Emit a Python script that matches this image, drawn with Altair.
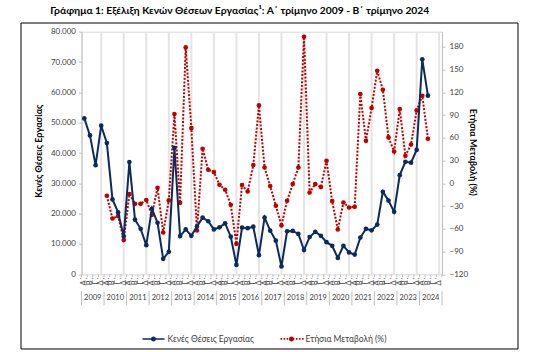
import altair as alt
import pandas as pd

# ---------------- data ----------------
years = list(range(2009, 2025))
quarter_labels = ["Α΄", "Β΄", "Γ΄", "Δ΄"]
series_names = ["Κενές Θέσεις Εργασίας", "Ετήσια Μεταβολή (%)"]

# job vacancies (thousands), Q1 2009 .. Q2 2024
vacancies_k = [
    51.4, 45.8, 36.0, 49.0,
    43.3, 24.7, 20.4, 12.5,
    37.0, 18.0, 15.0, 9.6,
    21.6, 17.0, 5.1, 7.4,
    41.7, 12.6, 14.8, 12.7,
    15.8, 18.7, 17.5, 14.8,
    15.5, 16.8, 12.4, 3.1,
    15.4, 15.2, 15.7, 6.3,
    18.7, 14.4, 11.1, 2.6,
    14.2, 14.3, 13.3, 8.0,
    12.3, 14.0, 12.7, 10.6,
    9.4, 5.4, 9.4, 7.2,
    6.5, 12.1, 15.0, 14.5,
    16.4, 27.2, 24.3, 20.6,
    32.7, 37.1, 36.8, 41.0,
    70.9, 58.9,
]
# annual change (%), Q1 2010 .. Q2 2024
annual_change = [
    -16.4, -46.4, -43.2, -74.9,
    -14.2, -27.0, -27.0, -22.1,
    -41.5, -5.9, -64.9, -22.6,
    91.3, -25.7, 179.2, 72.9,
    -62.2, 45.6, 17.9, 14.8,
    -1.9, -8.5, -28.3, -79.8,
    -2.3, -10.8, 24.1, 102.7,
    20.9, -3.6, -29.6, -55.6,
    -23.0, -1.0, 20.9, 193.3,
    -12.1, -1.0, -5.0, 29.7,
    -23.4, -60.9, -25.3, -31.9,
    -31.0, 117.7, 56.1, 99.3,
    148.5, 123.4, 60.5, 42.0,
    97.9, 36.3, 51.2, 96.1,
    115.5, 58.8,
]
left_ticks = [0, 10000, 20000, 30000, 40000, 50000, 60000, 70000, 80000]
right_ticks = [-120, -90, -60, -30, 0, 30, 60, 90, 120, 150, 180]

# ---------------- style ----------------
BLUE = "#0c2a5c"
RED = "#c00000"
AXIS_GRAY = "#bfbfbf"
LABEL = "#404040"
FONT = "Lato"
W, H = 360.5, 242.6
N_SLOTS = 4 * len(years)

df = pd.DataFrame({
    "pos": [i + 0.5 for i in range(len(vacancies_k))],
    "vac": [v * 1000 for v in vacancies_k],
    "chg": [None] * 4 + annual_change,
})

slot_df = pd.DataFrame({
    "pos": [i + 0.5 for i in range(N_SLOTS)],
    "q": [quarter_labels[i % 4] for i in range(N_SLOTS)],
})
bound_df = pd.DataFrame({"b": list(range(N_SLOTS + 1))})
year_df = pd.DataFrame({
    "year": [str(y) for y in years],
    "mid": [i * 4 + 2 for i in range(len(years))],
    "q4": [i * 4 + 3.5 for i in range(len(years))],
})
sep_df = pd.DataFrame({"b": [i * 4 for i in range(len(years) + 1)]})
legend_df = pd.DataFrame({"series": series_names})

xs = alt.Scale(domain=[0, N_SLOTS], nice=False, zero=False)
X = alt.X("pos:Q", scale=xs, axis=None)

grid = alt.Chart(year_df).mark_rule(color="#e4e4e4", strokeWidth=2).encode(
    x=alt.X("q4:Q", scale=xs, axis=None)
)

base = alt.Chart(df)

y_left = alt.Y(
    "vac:Q",
    scale=alt.Scale(domain=[0, 80000], nice=False, zero=True),
    axis=alt.Axis(
        orient="left", values=left_ticks,
        labelExpr="replace(format(datum.value, ',.0f'), ',', '.')",
        labelFontSize=8, labelColor=LABEL, tickSize=3, tickColor=AXIS_GRAY,
        domainColor=AXIS_GRAY, grid=False, labelPadding=3,
        title="Κενές Θέσεις Εργασίας", titleFontSize=9, titleFontWeight="bold",
        titleColor="#000000", titleX=-43.5, titleY=119, titleAngle=270,
        titleAlign="center", titleBaseline="middle",
    ),
)
y_right = alt.Y(
    "chg:Q",
    scale=alt.Scale(domain=[-120, 200], nice=False, zero=False),
    axis=alt.Axis(
        orient="right", values=right_ticks,
        labelFontSize=8, labelColor=LABEL, tickSize=3, tickColor=AXIS_GRAY,
        domainColor=AXIS_GRAY, grid=False, labelPadding=4,
        title="Ετήσια Μεταβολή (%)", titleFontSize=9, titleFontWeight="bold",
        titleColor="#000000", titleX=30, titleY=120, titleAngle=90,
        titleAlign="center", titleBaseline="middle",
    ),
)

blue_line = base.mark_line(color=BLUE, strokeWidth=2).encode(x=X, y=y_left)
blue_pts = base.mark_circle(color=BLUE, size=22, opacity=1).encode(x=X, y=y_left)
left_group = alt.layer(blue_line, blue_pts)

red_base = base.transform_filter("isValid(datum.chg)")
red_line = red_base.mark_line(color=RED, strokeWidth=2, strokeDash=[2, 1.6]).encode(x=X, y=y_right)
red_pts = red_base.mark_circle(color=RED, size=22, opacity=1).encode(x=X, y=y_right)
right_group = alt.layer(red_line, red_pts)

# category axis (two levels: quarters, years)
quarter_ticks = alt.Chart(bound_df).mark_rule(color=AXIS_GRAY, strokeWidth=1).encode(
    x=alt.X("b:Q", scale=xs, axis=None), y=alt.value(H), y2=alt.value(H + 3)
)
quarter_text = alt.Chart(slot_df).mark_text(
    angle=270, align="right", baseline="middle", fontSize=7.5, color=LABEL
).encode(x=alt.X("pos:Q", scale=xs, axis=None), y=alt.value(H + 3), text="q:N")
year_seps = alt.Chart(sep_df).mark_rule(color=AXIS_GRAY, strokeWidth=1).encode(
    x=alt.X("b:Q", scale=xs, axis=None), y=alt.value(H + 17), y2=alt.value(H + 31)
)
year_text = alt.Chart(year_df).mark_text(fontSize=7.5, color=LABEL, baseline="middle").encode(
    x=alt.X("mid:Q", scale=xs, axis=None), y=alt.value(H + 24), text="year:N"
)

# legend (symbols drawn by the legend; the marks themselves are clipped away)
def dotted_path():
    parts = []
    x = -1.0
    while x < 0.99:
        parts.append(f"M{x:.2f},-0.08H{x+0.14:.2f}V0.08H{x:.2f}Z")
        x += 0.28
    return "".join(parts)

circle = "M0.23,0A0.23,0.23 0 1,1 -0.23,0A0.23,0.23 0 1,1 0.23,0Z"
solid_sym = "M-1,-0.075H1V0.075H-1Z" + circle
dot_sym = dotted_path() + circle

leg = alt.Legend(
    orient="none", legendX=61, legendY=296, direction="horizontal", title=None,
    symbolSize=484, symbolStrokeWidth=0, labelFontSize=8.5, labelColor=LABEL,
    columnPadding=26, labelOffset=3, labelFont=FONT,
)
legend_layer = alt.Chart(legend_df).mark_point(filled=True, clip=True, opacity=1).encode(
    x=alt.value(-200), y=alt.value(-200),
    color=alt.Color("series:N", scale=alt.Scale(domain=series_names, range=[BLUE, RED]), legend=leg),
    shape=alt.Shape("series:N", scale=alt.Scale(domain=series_names, range=[solid_sym, dot_sym]), legend=leg),
)

frame = alt.Chart(pd.DataFrame({"f": [0]})).mark_rect(
    fillOpacity=0, stroke="#000000", strokeWidth=1
).encode(
    x=alt.value(21 - 81.5), x2=alt.value(518 - 81.5),
    y=alt.value(23 - 31.7), y2=alt.value(349 - 31.7),
)

chart = alt.layer(
    grid, right_group, left_group, quarter_ticks, quarter_text, year_seps, year_text,
    legend_layer, frame
).resolve_scale(y="independent").properties(
    width=W, height=H,
    autosize=alt.AutoSizeParams(type="none"),
    padding={"left": 81.5, "top": 31.7, "right": 548 - 81.5 - W, "bottom": 352 - 31.7 - H},
    title=alt.Title(
        "Γράφημα 1: Εξέλιξη Κενών Θέσεων Εργασίας¹: Α΄ τρίμηνο 2009 - Β΄ τρίμηνο 2024",
        fontSize=10.3, fontWeight="bold", color="#000000", anchor="middle",
        dx=-22, offset=6, font=FONT,
    ),
).configure(font=FONT).configure_view(stroke="#d9d9d9", strokeWidth=1)

chart.save("out.html", embed_options={"renderer": "svg", "actions": False})
